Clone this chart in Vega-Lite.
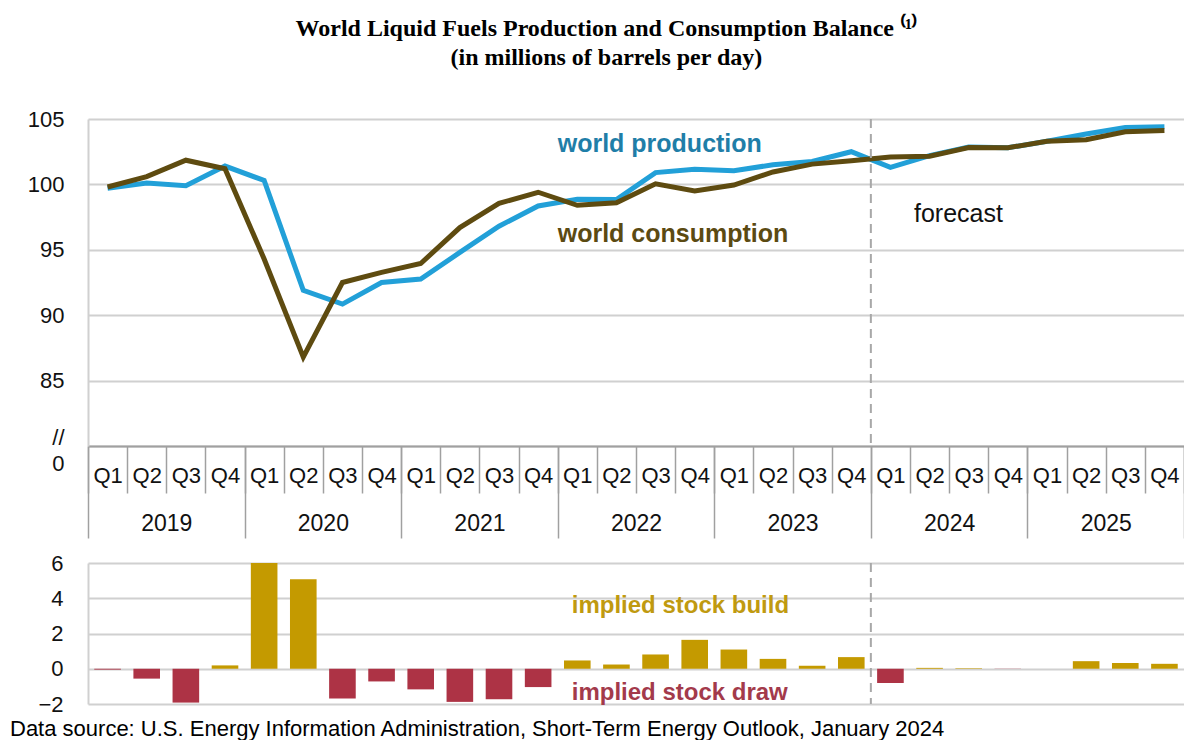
{
  "$schema": "https://vega.github.io/schema/vega-lite/v6.json",
  "background": "white",
  "padding": {"left": 10, "top": 17, "right": 0, "bottom": 0},
  "title": {
    "text": ["World Liquid Fuels Production and Consumption Balance ⁽¹⁾", "(in millions of barrels per day)"],
    "font": "Liberation Serif",
    "fontSize": 24,
    "fontWeight": "bold",
    "lineHeight": 29,
    "color": "black",
    "anchor": "middle",
    "dx": 9,
    "offset": 38
  },
  "config": {
    "font": "Liberation Sans",
    "view": {"stroke": null},
    "axis": {"labelFont": "Liberation Sans", "labelColor": "#111111"}
  },
  "datasets": {
    "q": [
      {"q": "2019 Q1", "year": "2019", "prod": 99.7, "cons": 99.8, "bal": -0.05},
      {"q": "2019 Q2", "year": "2019", "prod": 100.1, "cons": 100.6, "bal": -0.56},
      {"q": "2019 Q3", "year": "2019", "prod": 99.9, "cons": 101.85, "bal": -1.92},
      {"q": "2019 Q4", "year": "2019", "prod": 101.4, "cons": 101.2, "bal": 0.19},
      {"q": "2020 Q1", "year": "2020", "prod": 100.3, "cons": 94.3, "bal": 6.0},
      {"q": "2020 Q2", "year": "2020", "prod": 91.9, "cons": 86.8, "bal": 5.08},
      {"q": "2020 Q3", "year": "2020", "prod": 90.85, "cons": 92.5, "bal": -1.69},
      {"q": "2020 Q4", "year": "2020", "prod": 92.5, "cons": 93.27, "bal": -0.72},
      {"q": "2021 Q1", "year": "2021", "prod": 92.76, "cons": 93.95, "bal": -1.17},
      {"q": "2021 Q2", "year": "2021", "prod": 94.8, "cons": 96.7, "bal": -1.88},
      {"q": "2021 Q3", "year": "2021", "prod": 96.8, "cons": 98.55, "bal": -1.73},
      {"q": "2021 Q4", "year": "2021", "prod": 98.35, "cons": 99.4, "bal": -1.04},
      {"q": "2022 Q1", "year": "2022", "prod": 98.87, "cons": 98.4, "bal": 0.47},
      {"q": "2022 Q2", "year": "2022", "prod": 98.85, "cons": 98.6, "bal": 0.24},
      {"q": "2022 Q3", "year": "2022", "prod": 100.9, "cons": 100.05, "bal": 0.81},
      {"q": "2022 Q4", "year": "2022", "prod": 101.15, "cons": 99.5, "bal": 1.64},
      {"q": "2023 Q1", "year": "2023", "prod": 101.05, "cons": 99.95, "bal": 1.09},
      {"q": "2023 Q2", "year": "2023", "prod": 101.5, "cons": 100.95, "bal": 0.56},
      {"q": "2023 Q3", "year": "2023", "prod": 101.75, "cons": 101.55, "bal": 0.17},
      {"q": "2023 Q4", "year": "2023", "prod": 102.5, "cons": 101.8, "bal": 0.66},
      {"q": "2024 Q1", "year": "2024", "prod": 101.3, "cons": 102.1, "bal": -0.81},
      {"q": "2024 Q2", "year": "2024", "prod": 102.2, "cons": 102.15, "bal": 0.05},
      {"q": "2024 Q3", "year": "2024", "prod": 102.85, "cons": 102.82, "bal": 0.03},
      {"q": "2024 Q4", "year": "2024", "prod": 102.8, "cons": 102.8, "bal": -0.01},
      {"q": "2025 Q1", "year": "2025", "prod": 103.3, "cons": 103.3, "bal": 0.0},
      {"q": "2025 Q2", "year": "2025", "prod": 103.85, "cons": 103.42, "bal": 0.43},
      {"q": "2025 Q3", "year": "2025", "prod": 104.35, "cons": 104.03, "bal": 0.32},
      {"q": "2025 Q4", "year": "2025", "prod": 104.4, "cons": 104.12, "bal": 0.28}
    ],
    "notes": [
      {"q": "2022 Q1", "v": 103.1, "label": "world production"},
      {"q": "2022 Q1", "v": 96.2, "label": "world consumption"},
      {"q": "2024 Q2", "v": 97.7, "label": "forecast"},
      {"q": "2022 Q1", "v": 3.55, "label": "implied stock  build"},
      {"q": "2022 Q1", "v": -1.4, "label": "implied stock draw"}
    ]
  },
  "spacing": 13,
  "vconcat": [
    {
      "width": 1096,
      "height": 327,
      "layer": [
        {
          "layer": [
            {
              "data": {"name": "q"},
              "mark": {"type": "line", "color": "#22a0d8", "strokeWidth": 5},
              "encoding": {
                "x": {
                  "field": "q", "type": "ordinal", "bandPosition": 0.5,
                  "scale": {"type": "band", "paddingInner": 0, "paddingOuter": 0},
                  "axis": {
                    "title": null, "orient": "bottom", "labelExpr": "slice(datum.label, 5)",
                    "labelAngle": 0, "labelFontSize": 22, "labelBaseline": "middle", "labelPadding": -18,
                    "labelOverlap": false, "labelFlush": false,
                    "tickBand": "extent", "tickSize": 47, "tickColor": "#a0a0a0", "tickWidth": 1.5,
                    "domainColor": "#a0a0a0", "domainWidth": 2, "grid": false
                  }
                },
                "y": {
                  "field": "prod", "type": "quantitative",
                  "scale": {"domain": [80, 105], "nice": false, "zero": false},
                  "axis": {
                    "title": null, "values": [80, 85, 90, 95, 100, 105], "tickCount": 12,
                    "labelExpr": "datum.value == 80 ? ['//', '0'] : datum.label",
                    "labelLineHeight": 26, "labelFontSize": 22, "labelPadding": 24,
                    "labelOverlap": false,
                    "labelOffset": {"condition": {"test": "datum.value == 80", "value": -9}, "value": 0},
                    "ticks": false, "domainColor": "#d0d0d0", "domainWidth": 2,
                    "gridColor": "#d0d0d0", "gridWidth": 2
                  }
                }
              }
            },
            {
              "data": {"name": "q"},
              "mark": {"type": "line", "color": "#5e4b10", "strokeWidth": 5},
              "encoding": {
                "x": {"field": "q", "type": "ordinal", "bandPosition": 0.5},
                "y": {"field": "cons", "type": "quantitative"}
              }
            },
            {
              "data": {"name": "q"},
              "transform": [{"filter": "datum.q == '2024 Q1'"}],
              "mark": {"type": "rule", "color": "#a8a8a8", "strokeWidth": 2, "strokeDash": [9, 6]},
              "encoding": {"x": {"field": "q", "type": "ordinal", "bandPosition": 0}}
            },
            {
              "data": {"name": "notes"},
              "transform": [{"filter": "datum.label == 'world production'"}],
              "mark": {"type": "text", "align": "left", "baseline": "middle", "font": "Liberation Sans", "fontSize": 25, "fontWeight": "bold", "color": "#1f7ea8"},
              "encoding": {
                "x": {"field": "q", "type": "ordinal", "bandPosition": 0},
                "y": {"field": "v", "type": "quantitative"},
                "text": {"field": "label"}
              }
            },
            {
              "data": {"name": "notes"},
              "transform": [{"filter": "datum.label == 'world consumption'"}],
              "mark": {"type": "text", "align": "left", "baseline": "middle", "font": "Liberation Sans", "fontSize": 25, "fontWeight": "bold", "color": "#5b4a12"},
              "encoding": {
                "x": {"field": "q", "type": "ordinal", "bandPosition": 0},
                "y": {"field": "v", "type": "quantitative"},
                "text": {"field": "label"}
              }
            },
            {
              "data": {"name": "notes"},
              "transform": [{"filter": "datum.label == 'forecast'"}],
              "mark": {"type": "text", "align": "left", "baseline": "middle", "font": "Liberation Sans", "fontSize": 25, "color": "#111111", "dx": 4},
              "encoding": {
                "x": {"field": "q", "type": "ordinal", "bandPosition": 0},
                "y": {"field": "v", "type": "quantitative"},
                "text": {"field": "label"}
              }
            }
          ]
        },
        {
          "data": {"name": "q"},
          "mark": {"type": "point", "opacity": 0},
          "encoding": {
            "x": {
              "field": "year", "type": "ordinal",
              "scale": {"type": "band", "paddingInner": 0, "paddingOuter": 0},
              "axis": {
                "title": null, "orient": "bottom", "labelAngle": 0, "labelFontSize": 23,
                "labelBaseline": "middle", "labelPadding": -15,
                "tickBand": "extent", "tickSize": 92, "tickColor": "#a0a0a0", "tickWidth": 1.5,
                "domain": false, "grid": false
              }
            }
          }
        }
      ],
      "resolve": {"scale": {"x": "independent"}, "axis": {"x": "independent"}}
    },
    {
      "width": 1096,
      "height": 141,
      "title": {
        "text": "Data source: U.S. Energy Information Administration, Short-Term Energy Outlook, January 2024",
        "orient": "bottom", "anchor": "start", "frame": "group", "dx": -78, "offset": 4,
        "font": "Liberation Sans", "fontSize": 22, "fontWeight": "normal", "color": "black"
      },
      "layer": [
        {
          "data": {"name": "q"},
          "mark": {"type": "bar", "width": {"band": 0.68}},
          "encoding": {
            "x": {
              "field": "q", "type": "ordinal",
              "scale": {"type": "band", "paddingInner": 0, "paddingOuter": 0},
              "axis": null
            },
            "y": {
              "field": "bal", "type": "quantitative",
              "scale": {"domain": [-2, 6], "nice": false},
              "axis": {
                "title": null, "values": [-2, 0, 2, 4, 6], "tickCount": 10, "labelOverlap": false,
                "labelFontSize": 22, "labelPadding": 25,
                "ticks": false, "domainColor": "#d0d0d0", "domainWidth": 2,
                "gridColor": "#d0d0d0", "gridWidth": 2
              }
            },
            "color": {"condition": {"test": "datum.bal >= 0", "value": "#c49a00"}, "value": "#ad3345"}
          }
        },
        {
          "mark": {"type": "rule", "color": "black", "strokeWidth": 2.5},
          "encoding": {"y": {"datum": 0}}
        },
        {
          "data": {"name": "q"},
          "transform": [{"filter": "datum.q == '2024 Q1'"}],
          "mark": {"type": "rule", "color": "#a8a8a8", "strokeWidth": 2, "strokeDash": [9, 6]},
          "encoding": {"x": {"field": "q", "type": "ordinal", "bandPosition": 0}}
        },
        {
          "data": {"name": "notes"},
          "transform": [{"filter": "datum.label == 'implied stock  build'"}],
          "mark": {"type": "text", "align": "left", "baseline": "middle", "font": "Liberation Sans", "fontSize": 24, "fontWeight": "bold", "color": "#c09a10", "dx": 14},
          "encoding": {
            "x": {"field": "q", "type": "ordinal", "bandPosition": 0},
            "y": {"field": "v", "type": "quantitative"},
            "text": {"field": "label"}
          }
        },
        {
          "data": {"name": "notes"},
          "transform": [{"filter": "datum.label == 'implied stock draw'"}],
          "mark": {"type": "text", "align": "left", "baseline": "middle", "font": "Liberation Sans", "fontSize": 24, "fontWeight": "bold", "color": "#a33a4b", "dx": 14},
          "encoding": {
            "x": {"field": "q", "type": "ordinal", "bandPosition": 0},
            "y": {"field": "v", "type": "quantitative"},
            "text": {"field": "label"}
          }
        }
      ]
    }
  ]
}
